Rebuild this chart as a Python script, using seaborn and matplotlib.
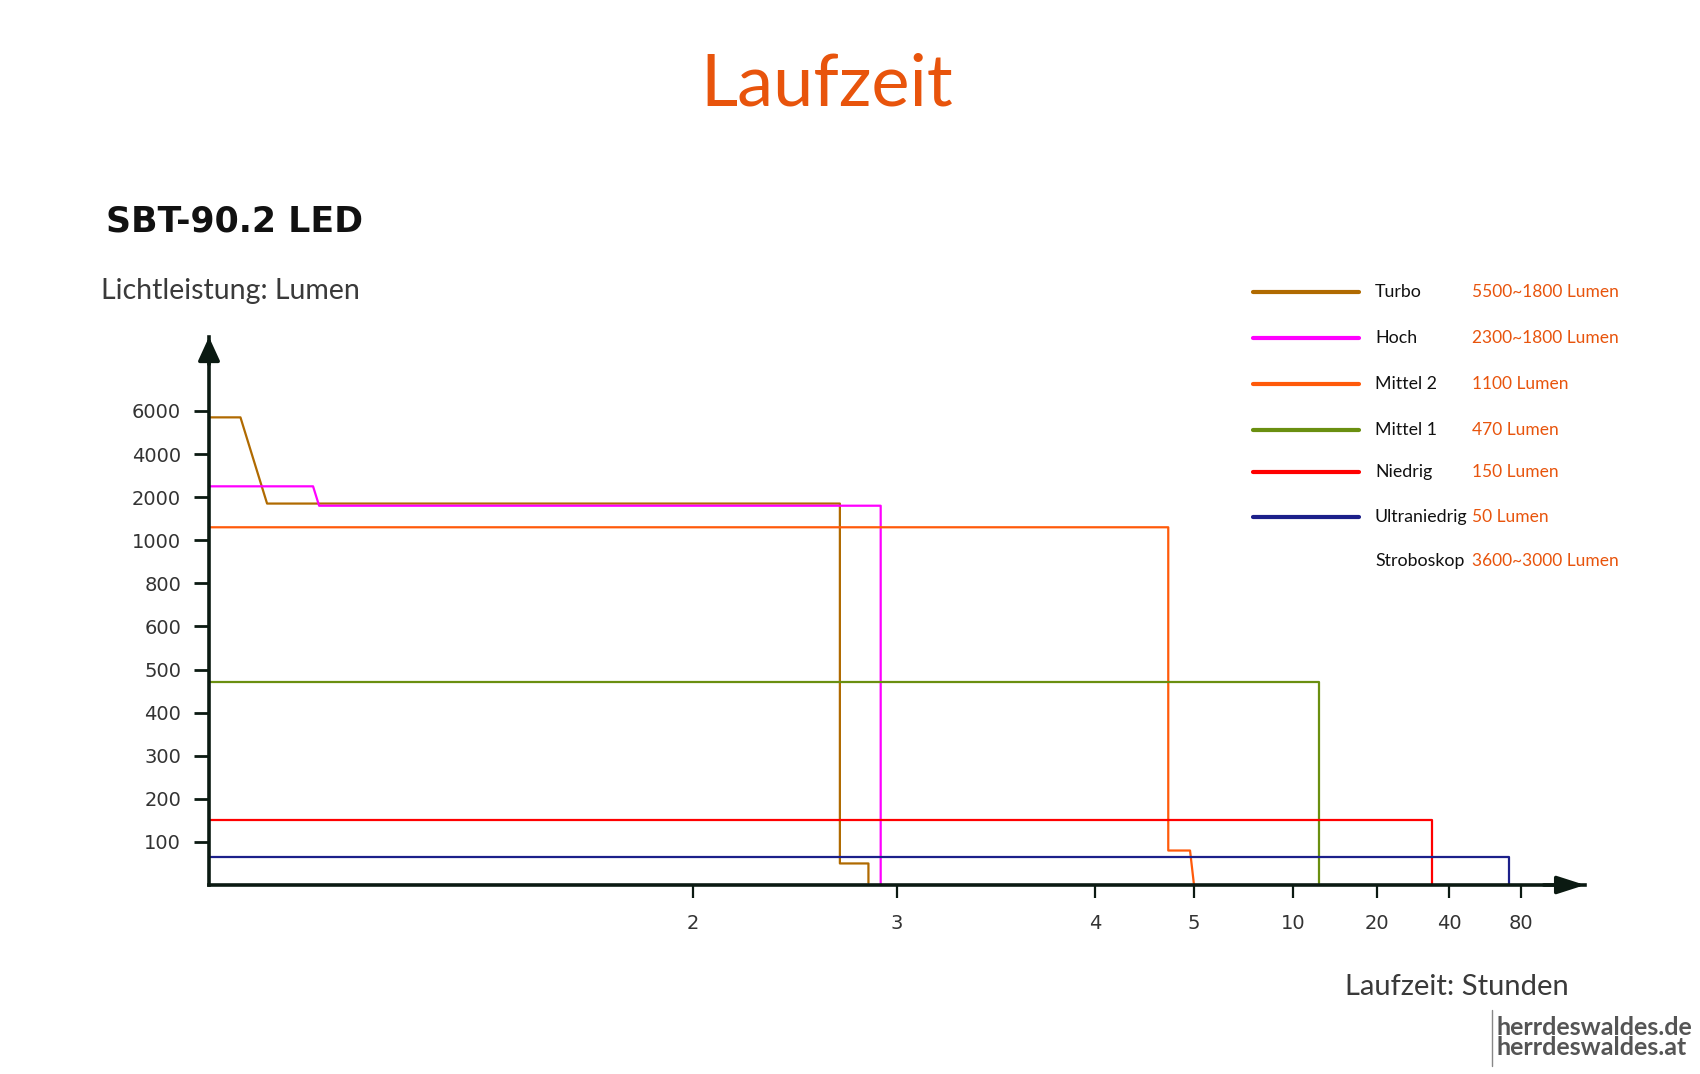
import numpy as np
import pandas as pd
import seaborn as sns
import matplotlib.pyplot as plt
from matplotlib.lines import Line2D

# --- DATA ---
modes = ['Turbo', 'Hoch', 'Mittel 2', 'Mittel 1', 'Niedrig', 'Ultraniedrig']
colors = ['#b06a00', '#ff00ff', '#ff5a0a', '#6a8f10', '#ff0000', '#1c208a']
lumen_text = ['5500~1800 Lumen', '2300~1800 Lumen', '1100 Lumen', '470 Lumen',
              '150 Lumen', '50 Lumen']
strobe_label = 'Stroboskop'
strobe_text = '3600~3000 Lumen'

turbo_hours = [0, 0.13, 0.24, 2.72, 2.72, 2.86, 2.86]
turbo_lumen = [5700, 5700, 1850, 1850, 50, 50, 5]
hoch_hours = [0, 0.43, 0.455, 2.92, 2.92]
hoch_lumen = [2500, 2500, 1800, 1800, 0]
mittel2_hours = [0, 4.74, 4.74, 4.96, 5.0]
mittel2_lumen = [1300, 1300, 80, 80, 0]
mittel1_hours = [0, 13.1, 13.1]
mittel1_lumen = [470, 470, 5]
niedrig_hours = [0, 35.3, 35.3]
niedrig_lumen = [150, 150, 0]
ultra_hours = [0, 73.3, 73.3]
ultra_lumen = [65, 65, 0]

y_ticks = [100, 200, 300, 400, 500, 600, 800, 1000, 2000, 4000, 6000]
x_ticks = [2, 3, 4, 5, 10, 20, 40, 80]

# uneven axes of the original graphic: piecewise scales
y_knots = [0, 100, 200, 300, 400, 500, 600, 800, 1000, 2000, 4000, 6000, 8000, 10000]
y_pos = list(range(len(y_knots)))
x_knots = [0, 2, 3, 4, 5, 10, 20, 40, 80, 120]
x_pos = [0, 484, 688, 886, 985, 1084, 1168, 1240, 1312, 1384]


def y_fwd(v):
    return np.interp(v, y_knots, y_pos)


def y_inv(p):
    return np.interp(p, y_pos, y_knots)


def x_fwd(v):
    return np.interp(v, x_knots, x_pos)


def x_inv(p):
    return np.interp(p, x_pos, x_knots)


series = [(turbo_hours, turbo_lumen), (hoch_hours, hoch_lumen),
          (mittel2_hours, mittel2_lumen), (mittel1_hours, mittel1_lumen),
          (niedrig_hours, niedrig_lumen), (ultra_hours, ultra_lumen)]
frames = []
for name, (h, l) in zip(modes, series):
    frames.append(pd.DataFrame({'mode': name, 'hours': h, 'lumen': l}))
df = pd.concat(frames, ignore_index=True)

# --- PLOT ---
sns.set_style('white')
plt.rcParams['font.family'] = ['Lato', 'DejaVu Sans']

W, H = 1700, 1074
fig = plt.figure(figsize=(W / 100, H / 100), dpi=100)
ax = fig.add_axes([209 / W, (H - 885) / H, 1376 / W, 548 / H])
ax.set_xscale('function', functions=(x_fwd, x_inv))
ax.set_yscale('function', functions=(y_fwd, y_inv))

sns.lineplot(data=df, x='hours', y='lumen', hue='mode', hue_order=modes,
             palette=colors, sort=False, estimator=None, units='mode',
             linewidth=1.6, legend=False, ax=ax, clip_on=False)

ax.set_xlim(0, x_inv(1376))
ax.set_ylim(0, y_inv(548 / 43.1))
ax.set_xlabel('')
ax.set_ylabel('')

dark = '#0b1a12'
for s in ['top', 'right']:
    ax.spines[s].set_visible(False)
for s in ['left', 'bottom']:
    ax.spines[s].set_linewidth(2.6)
    ax.spines[s].set_color(dark)

ax.set_yticks(y_ticks)
ax.set_yticklabels([str(v) for v in y_ticks])
ax.set_xticks(x_ticks)
ax.set_xticklabels([str(v) for v in x_ticks])
ax.tick_params(axis='y', left=True, length=11, width=2, color=dark, pad=9,
               labelsize=14, labelcolor='#333333')
ax.tick_params(axis='x', bottom=True, length=9, width=1.6, color=dark, pad=12,
               labelsize=14, labelcolor='#333333')
for lab in ax.get_xticklabels() + ax.get_yticklabels():
    lab.set_family('DejaVu Sans')

# arrow heads
ax.annotate('', xy=(0, 1), xytext=(0, 0.95), xycoords='axes fraction',
            arrowprops=dict(arrowstyle='-|>,head_length=1.2,head_width=0.55',
                            mutation_scale=12, lw=2.6, color=dark,
                            shrinkA=0, shrinkB=0))
ax.annotate('', xy=(1, 0), xytext=(0.97, 0), xycoords='axes fraction',
            arrowprops=dict(arrowstyle='-|>,head_length=1.4,head_width=0.45',
                            mutation_scale=12, lw=2.6, color=dark,
                            shrinkA=0, shrinkB=0))


def fx(x):
    return x / W


def fy(y):
    return 1 - y / H


# --- TEXTS ---
orange = '#e8540c'
fig.text(fx(827), fy(85), 'Laufzeit', ha='center', va='center',
         fontsize=52, color=orange)
fig.text(fx(106), fy(221), 'SBT-90.2 LED', ha='left', va='center',
         fontsize=25, fontweight='bold', color='#111111', family='DejaVu Sans')
fig.text(fx(101), fy(299), 'Lichtleistung: Lumen', ha='left', va='baseline',
         fontsize=20.5, color='#3a3a3a')
fig.text(fx(1569), fy(995), 'Laufzeit: Stunden', ha='right', va='baseline',
         fontsize=21, color='#3a3a3a')

# legend drawn by hand like the original
leg_y = [292, 338, 384, 430, 472, 517]
for name, col, txt, yy in zip(modes, colors, lumen_text, leg_y):
    fig.add_artist(Line2D([fx(1253), fx(1359)], [fy(yy), fy(yy)],
                          color=col, lw=3, transform=fig.transFigure))
    fig.text(fx(1375), fy(yy), name, ha='left', va='center',
             fontsize=12.8, color='#111111')
    fig.text(fx(1472), fy(yy), txt, ha='left', va='center',
             fontsize=12.5, color=orange)
fig.text(fx(1375), fy(561), strobe_label, ha='left', va='center',
         fontsize=12.8, color='#111111')
fig.text(fx(1472), fy(561), strobe_text, ha='left', va='center',
         fontsize=12.5, color=orange)

# watermark
fig.add_artist(Line2D([fx(1492), fx(1492)], [fy(1010), fy(1066)],
                      color='#888888', lw=1, transform=fig.transFigure))
fig.text(fx(1497), fy(1035), 'herrdeswaldes.de', ha='left', va='baseline',
         fontsize=18, fontweight='bold', color='#555555')
fig.text(fx(1497), fy(1055), 'herrdeswaldes.at', ha='left', va='baseline',
         fontsize=18, fontweight='bold', color='#555555')

fig.savefig('out.png', dpi=100, facecolor='white')
